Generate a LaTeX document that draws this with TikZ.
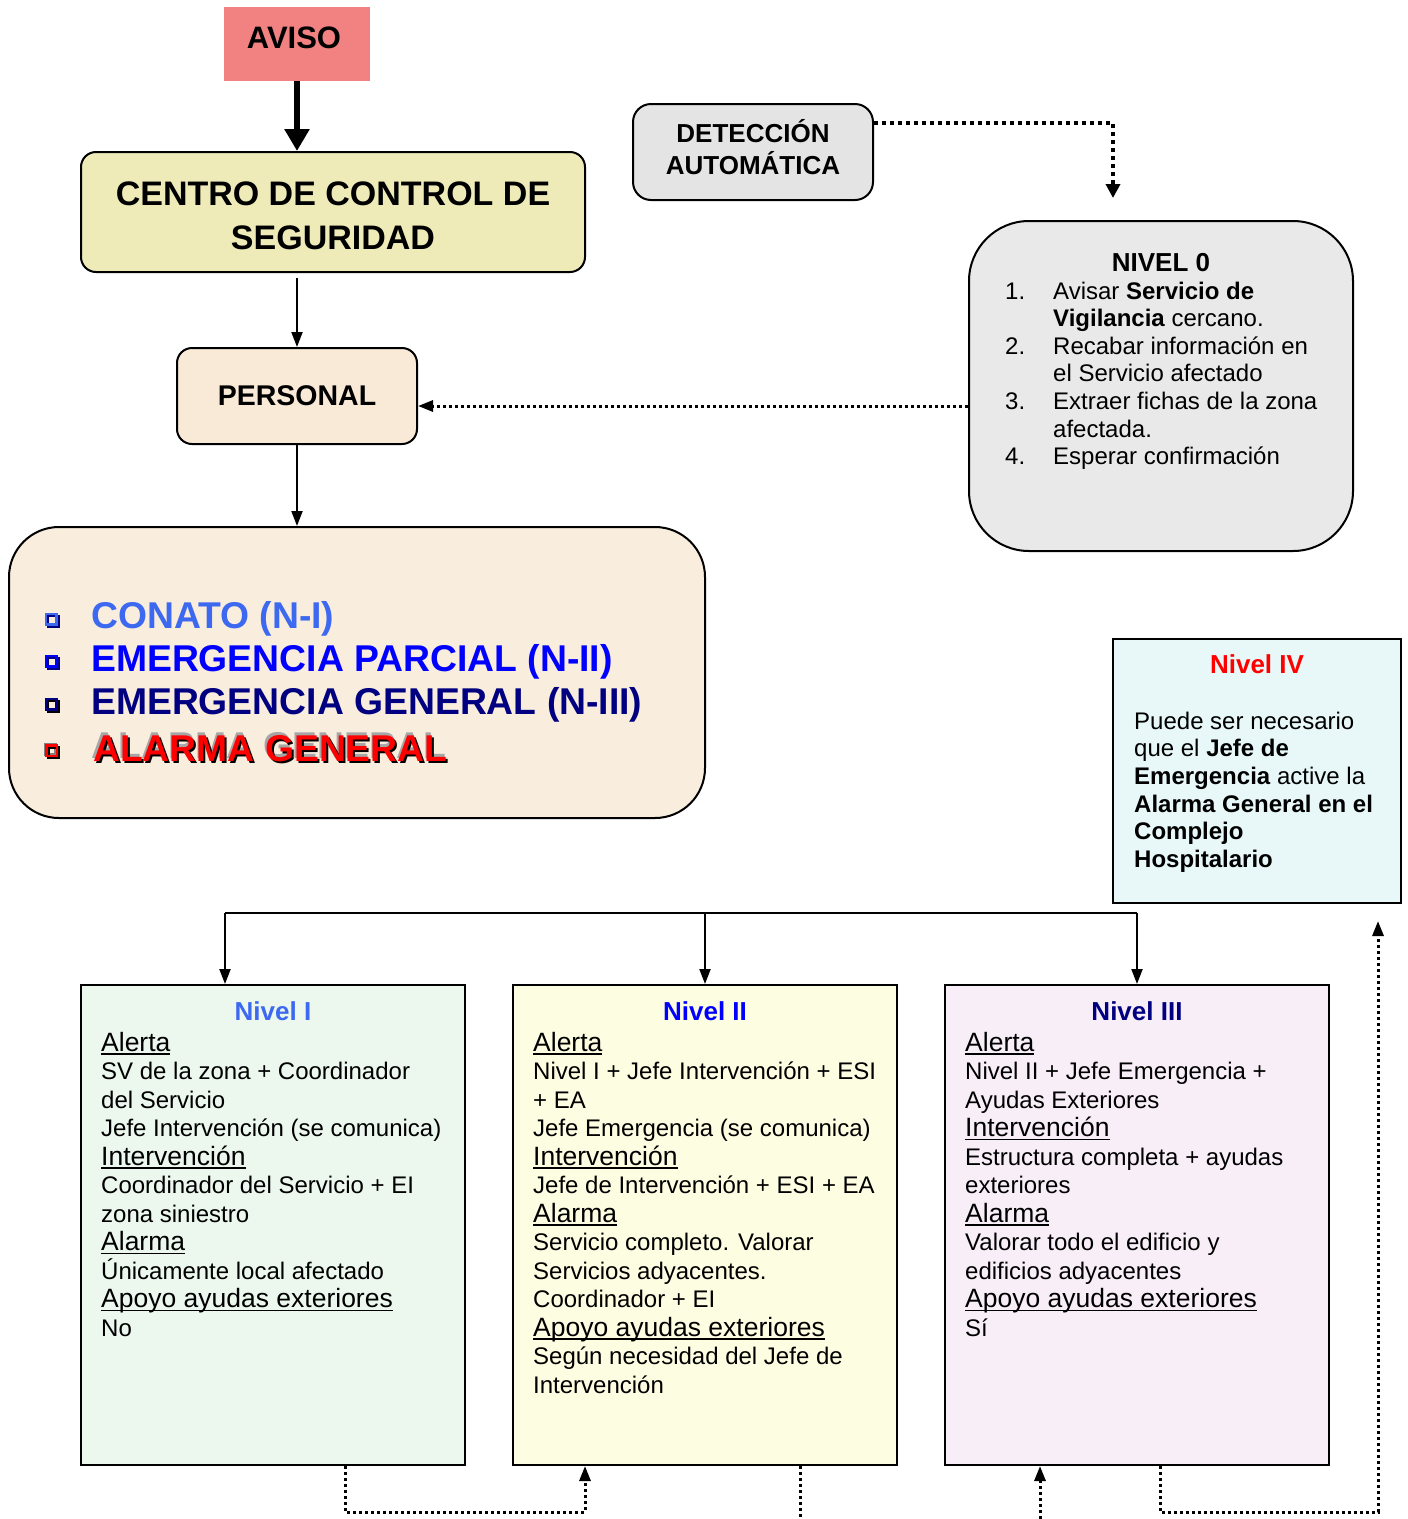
\documentclass[tikz,border=0pt]{standalone}
\usepackage{fontspec}
\setmainfont{Liberation Sans}
\usetikzlibrary{arrows.meta,calc}
\definecolor{avisoC}{RGB}{242,130,130}
\definecolor{centroC}{RGB}{238,235,184}
\definecolor{persC}{RGB}{248,234,214}
\definecolor{mainC}{RGB}{249,237,222}
\definecolor{detC}{RGB}{228,228,228}
\definecolor{nzeroC}{RGB}{233,233,233}
\definecolor{nfourC}{RGB}{232,248,248}
\definecolor{noneC}{RGB}{236,248,238}
\definecolor{ntwoC}{RGB}{253,253,226}
\definecolor{nthreeC}{RGB}{248,238,248}
\definecolor{lblue}{RGB}{60,105,240}
\definecolor{pblue}{RGB}{0,0,255}
\definecolor{nblue}{RGB}{0,0,128}
\definecolor{alred}{RGB}{255,0,0}
\newcommand\fs[2]{\fontsize{#1}{#2}\selectfont}
\newsavebox\ulbox
\newcommand\ulh[1]{\sbox\ulbox{\fs{26.5}{28.5}#1}\rlap{\rule[-3.5pt]{\wd\ulbox}{1.6pt}}\usebox\ulbox}
\begin{document}
\begin{tikzpicture}[x=1pt,y=-1pt,
  box/.style={draw=black,line width=2pt,inner sep=0pt},
  rbox/.style={box,rounded corners=15pt},
  txt/.style={inner sep=0pt,align=left,anchor=north west,font=\fs{24}{28.5}},
  ttl/.style={inner sep=0pt,anchor=base,font=\fs{26}{30}\bfseries},
  big/.style={inner sep=0pt,anchor=base west,font=\fs{37.3}{44}\bfseries},
  thinarrow/.style={line width=2pt,-{Triangle[width=11pt,length=15pt]}},
  thickarrow/.style={line width=6pt,-{Triangle[width=24pt,length=22pt]}},
  detarrow/.style={line width=4pt,dash pattern=on 4pt off 4pt,-{Triangle[width=14pt,length=14pt]}},
  dotline/.style={line width=3pt,dash pattern=on 3pt off 3pt},
  dotarrow/.style={dotline,-{Triangle[width=11pt,length=15pt]}}]
\useasboundingbox (0,0) rectangle (1408,1519);
% boxes
\node[inner sep=0pt,fill=avisoC,minimum width=146pt,minimum height=74pt] (aviso) at (297,44) {};
\node[ttl,font=\fs{31}{36}\bfseries] (avisot) at (294,48) {AVISO};
\node[rbox,fill=centroC,minimum width=504pt,minimum height=120pt] (centro) at (333,212) {};
\node[inner sep=0pt,align=center,anchor=north,font=\fs{34}{44}\bfseries] (centrot) at (333,182) {CENTRO DE CONTROL DE\\SEGURIDAD};
\node[rbox,fill=persC,minimum width=240pt,minimum height=96pt,font=\fs{28.5}{32}\bfseries] (pers) at (297,396) {PERSONAL};
\node[box,rounded corners=50pt,fill=mainC,minimum width=696pt,minimum height=291pt] (main) at (357,672.5) {};
\node[rbox,rounded corners=18pt,fill=detC,minimum width=240pt,minimum height=96pt] (det) at (753,152) {};
\node[inner sep=0pt,align=center,anchor=north,font=\fs{26}{32}\bfseries] (dett) at (753,119) {DETECCIÓN\\AUTOMÁTICA};
\node[box,rounded corners=60pt,fill=nzeroC,minimum width=384pt,minimum height=330pt] (n0) at (1161,386) {};
\node[box,fill=nfourC,minimum width=288pt,minimum height=264pt] (n4) at (1257,771) {};
\node[box,fill=noneC,minimum width=384pt,minimum height=480pt] (b1) at (273,1225) {};
\node[box,fill=ntwoC,minimum width=384pt,minimum height=480pt] (b2) at (705,1225) {};
\node[box,fill=nthreeC,minimum width=384pt,minimum height=480pt] (b3) at (1137,1225) {};
% NIVEL 0 text
\node[ttl] (n0t) at (1161,271) {NIVEL 0};
\node[txt,font=\fs{24}{27.6}] (n0l) at (1005,279.5) {\strut\makebox[48pt][l]{1.}Avisar \textbf{Servicio de}\\
\hspace*{48pt}\textbf{Vigilancia} cercano.\\
\makebox[48pt][l]{2.}Recabar información en\\
\hspace*{48pt}el Servicio afectado\\
\makebox[48pt][l]{3.}Extraer fichas de la zona\\
\hspace*{48pt}afectada.\\
\makebox[48pt][l]{4.}Esperar confirmación};
% main list
\draw[nblue,line width=2.2pt] (48,616) rectangle (58.5,626.5);
\draw[lblue,line width=2.2pt] (46,614) rectangle (56.5,624.5);
\node[big,text=lblue] (l1) at (91,628) {CONATO (N-I)};
\draw[nblue,line width=2.2pt] (48,658) rectangle (58.5,668.5);
\draw[pblue,line width=2.2pt] (46,656) rectangle (56.5,666.5);
\node[big,text=pblue] (l2) at (91,671) {EMERGENCIA PARCIAL (N-II)};
\draw[black,line width=2.2pt] (48,701) rectangle (58.5,711.5);
\draw[nblue,line width=2.2pt] (46,699) rectangle (56.5,709.5);
\node[big,text=nblue] (l3) at (91,714) {EMERGENCIA GENERAL (N-III)};
\draw[gray,line width=2.2pt] (45,744) rectangle (55.5,754.5);
\draw[black,line width=2.2pt] (48.5,747.5) rectangle (59,758);
\draw[alred,line width=2.2pt] (46.5,745.5) rectangle (57,756);
\node[big,text=gray!70] (l4g) at (91.5,758) {ALARMA GENERAL};
\node[big,text=black] (l4k) at (95,763) {ALARMA GENERAL};
\node[big,text=alred] (l4) at (93,761) {ALARMA GENERAL};
% Nivel IV
\node[ttl,text=alred] (n4t) at (1257,673) {Nivel IV};
\node[txt,font=\fs{24}{27.7}] (n4l) at (1134,709.5) {\strut Puede ser necesario\\
que el \textbf{Jefe de}\\
\textbf{Emergencia} active la\\
\textbf{Alarma General en el}\\
\textbf{Complejo}\\
\textbf{Hospitalario}};
% Nivel I-III
\node[ttl,text=lblue] (b1t) at (273,1020) {Nivel I};
\node[ttl,text=pblue] (b2t) at (705,1020) {Nivel II};
\node[ttl,text=nblue] (b3t) at (1137,1020) {Nivel III};
\node[txt] (b1l) at (101,1031) {\strut\ulh{Alerta}\\
SV de la zona + Coordinador\\
del Servicio\\
Jefe Intervención (se comunica)\\
\ulh{Intervención}\\
Coordinador del Servicio + EI\\
zona siniestro\\
\ulh{Alarma}\\
Únicamente local afectado\\
\ulh{Apoyo ayudas exteriores}\\
No};
\node[txt] (b2l) at (533,1031) {\strut\ulh{Alerta}\\
Nivel I + Jefe Intervención + ESI\\
+ EA\\
Jefe Emergencia (se comunica)\\
\ulh{Intervención}\\
Jefe de Intervención + ESI + EA\\
\ulh{Alarma}\\
Servicio completo. Valorar\\
Servicios adyacentes.\\
Coordinador + EI\\
\ulh{Apoyo ayudas exteriores}\\
Según necesidad del Jefe de\\
Intervención};
\node[txt] (b3l) at (965,1031) {\strut\ulh{Alerta}\\
Nivel II + Jefe Emergencia +\\
Ayudas Exteriores\\
\ulh{Intervención}\\
Estructura completa + ayudas\\
exteriores\\
\ulh{Alarma}\\
Valorar todo el edificio y\\
edificios adyacentes\\
\ulh{Apoyo ayudas exteriores}\\
Sí};
% connectors
\draw[thickarrow] (aviso.south) -- (aviso.south |- centro.north);
\draw[thinarrow] ($(centro.south -| pers)+(0,5)$) -- (pers.north);
\draw[thinarrow] (pers.south) -- (main.north -| pers);
\draw[detarrow] ($(det.north east)+(0,20)$) -| ($(n0.north)+(-48,-22)$);
\coordinate (n0out) at ($(n0.west)+(0,20)$);
\draw[dotarrow] (n0out) -- (n0out -| pers.east);
\coordinate (bL) at (225,913);
\coordinate (bM) at (705,913);
\coordinate (bR) at (1137,913);
\draw[line width=2.5pt] (bL) -- (bR);
\draw[thinarrow] (bL) -- (bL |- b1.north);
\draw[thinarrow] (bM) -- (b2.north);
\draw[thinarrow] (bR) -- (b3.north);
\coordinate (p1) at (345,1512);
\draw[dotarrow] (b1.south -| p1) -- (p1) -| ($(b2.south)+(-120,0)$);
\coordinate (p2) at (800,1519);
\draw[dotline] (b2.south -| p2) -- (p2);
\coordinate (p3) at (1040,1519);
\draw[dotarrow] (p3) -- (p3 |- b3.south);
\coordinate (p4) at (1160,1512);
\coordinate (p5) at (1378,1512);
\draw[dotarrow] (b3.south -| p4) -- (p4) -- (p5) -- ($(n4.south -| p5)+(0,17)$);
\end{tikzpicture}
\end{document}
